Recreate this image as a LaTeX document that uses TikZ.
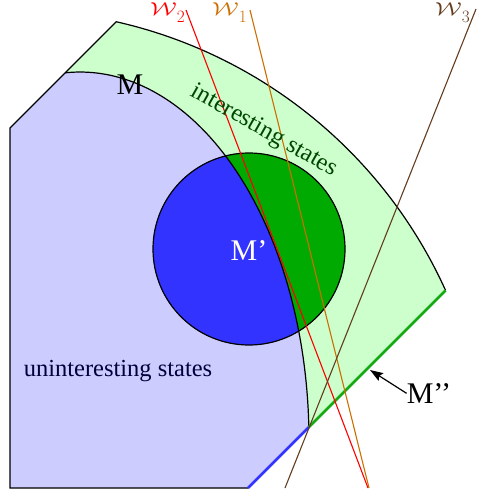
\documentclass[tikz,border=0pt]{standalone}
\usepackage{fontspec}
\setmainfont{Liberation Serif}
\usetikzlibrary{arrows.meta}
\definecolor{lblue}{RGB}{204,204,255}
\definecolor{lgreen}{RGB}{204,255,204}
\definecolor{dgreen}{RGB}{0,170,0}
\definecolor{cblue}{RGB}{51,51,255}
\definecolor{mgreen}{RGB}{20,170,20}
\definecolor{orng}{RGB}{205,110,0}
\definecolor{brwn}{RGB}{100,60,30}
\definecolor{txtgreen}{RGB}{0,70,0}
\definecolor{txtnavy}{RGB}{0,0,60}
\newcommand{\wlabel}[1]{\scalebox{1.0}[0.75]{$\mathcal{W}$}\raisebox{-6.5pt}{$\scriptstyle #1$}}
\tikzset{
  outl/.style={draw=black, line width=1.2pt},
  wline/.style={line width=1.1pt},
  bigtxt/.style={font=\fontsize{30}{34}\selectfont, inner sep=0pt},
  midtxt/.style={font=\fontsize{24.5}{28}\selectfont, inner sep=0pt},
  wlab/.style={font=\fontsize{25}{27}\selectfont, inner sep=0pt, anchor=base west},
}
\begin{document}
\begin{tikzpicture}[x=1pt,y=-1pt]
\useasboundingbox (0,0) rectangle (498,498);
% band and region fills
\fill[lgreen] (10,488) -- (10,128) -- (116.25,21.75) arc[start angle=-77.25,end angle=-24.34,radius=477] -- (248,488) -- cycle;
\begin{scope}
  \clip (80,440) ellipse [x radius=229, y radius=368];
  \fill[lblue] (10,488) -- (10,128) -- (116.25,21.75) arc[start angle=-77.25,end angle=-24.34,radius=477] -- (248,488) -- cycle;
\end{scope}
% circle M'
\fill[dgreen] (249,249) circle [radius=96];
\begin{scope}
  \clip (80,440) ellipse [x radius=229, y radius=368];
  \fill[cblue] (249,249) circle [radius=96];
\end{scope}
\draw[outl] (249,249) circle [radius=96];
% inner boundary (ellipse arc)
\draw[outl] (65.2,72.8) arc[start angle=-93.7,end angle=-2.0,x radius=229,y radius=368];
% outline
\draw[outl, line join=miter] (248,488) -- (10,488) -- (10,128) -- (116.25,21.75) arc[start angle=-77.25,end angle=-24.34,radius=477];
\coordinate (gA) at (445.6,290.4);
\coordinate (gB) at (308.85,427.15);
\coordinate (bB) at (248,488);
\draw[mgreen, line width=2.6pt] (gA) -- (gB);
\draw[cblue, line width=2.6pt] (gB) -- (bB);
% W lines
\coordinate (w2t) at (186,10);
\coordinate (w2b) at (368,488);
\coordinate (w1t) at (250,10);
\coordinate (w1b) at (369,488);
\coordinate (w3t) at (476,9);
\coordinate (w3b) at (285,488);
\draw[wline, red] (w2t) -- (w2b);
\draw[wline, orng] (w1t) -- (w1b);
\draw[wline, brwn] (w3t) -- (w3b);
% labels
\node[wlab, text=red] (lw2) at (150,15.5) {\wlabel{2}};
\node[wlab, text=orng] (lw1) at (212,15.5) {\wlabel{1}};
\node[wlab, text=brwn] (lw3) at (435,15.5) {\wlabel{3}};
\node[bigtxt, anchor=base] (lm) at (130,94.5) {M};
\node[bigtxt, anchor=base, text=white] (lmp) at (249,260) {M’};
\node[bigtxt, anchor=base] (lmpp) at (429,403.3) {M’’};
\coordinate (mtip) at (370,370);
\draw[line width=1.2pt, -{Stealth[length=13pt,width=9pt,inset=2pt]}] (lmpp.west) -- (mtip);
\node[midtxt, text=txtgreen, rotate=-29.5] (lint) at (264,131) {interesting states};
\node[midtxt, text=txtnavy, anchor=base] (lun) at (118,376) {uninteresting states};
\end{tikzpicture}
\end{document}
